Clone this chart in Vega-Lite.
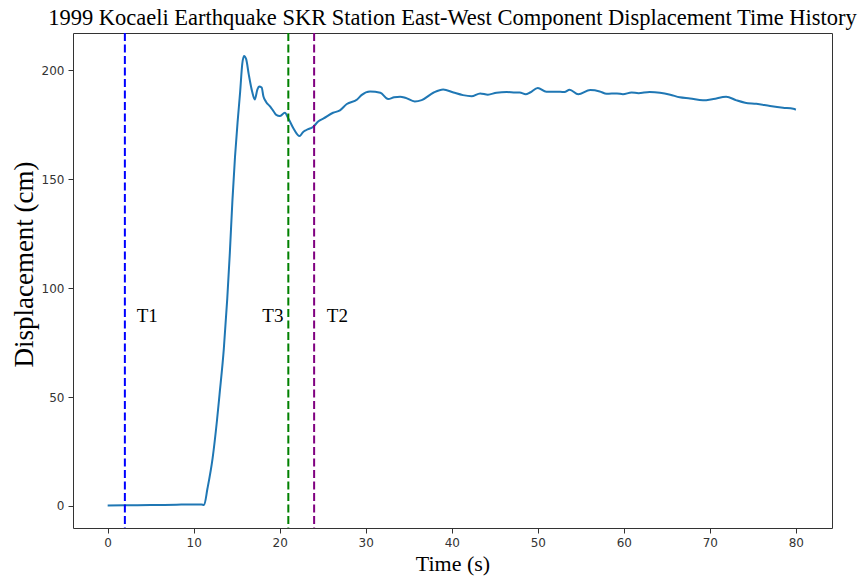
{
  "$schema": "https://vega.github.io/schema/vega-lite/v6.json",
  "autosize": "none",
  "width": 759,
  "height": 495,
  "padding": {"left": 73, "top": 33, "right": 35, "bottom": 51},
  "background": "white",
  "title": {
    "text": "1999 Kocaeli Earthquake SKR Station East-West Component Displacement Time History",
    "font": "Liberation Serif",
    "fontSize": 22.5,
    "fontWeight": "normal",
    "color": "#000",
    "anchor": "middle",
    "frame": "group",
    "offset": 3
  },
  "datasets": {
    "series": [
      {"t": 0, "d": 0.2}, {"t": 2, "d": 0.3}, {"t": 5, "d": 0.4}, {"t": 8, "d": 0.6}, {"t": 10, "d": 0.7},
      {"t": 10.9, "d": 0.7}, {"t": 11.2, "d": 0.4}, {"t": 11.6, "d": 8}, {"t": 12.2, "d": 22}, {"t": 12.7, "d": 39},
      {"t": 13.0, "d": 51}, {"t": 13.5, "d": 72}, {"t": 13.9, "d": 95}, {"t": 14.2, "d": 116}, {"t": 14.5, "d": 140},
      {"t": 14.8, "d": 160}, {"t": 15.1, "d": 176}, {"t": 15.4, "d": 190}, {"t": 15.65, "d": 203}, {"t": 15.85, "d": 206.5},
      {"t": 16.1, "d": 205}, {"t": 16.4, "d": 198}, {"t": 16.8, "d": 190}, {"t": 17.1, "d": 186.5}, {"t": 17.4, "d": 191},
      {"t": 17.6, "d": 192.5}, {"t": 17.9, "d": 192}, {"t": 18.1, "d": 188}, {"t": 18.4, "d": 185.5}, {"t": 18.9, "d": 183.2},
      {"t": 19.3, "d": 181}, {"t": 19.6, "d": 179.4}, {"t": 20.0, "d": 178.9}, {"t": 20.6, "d": 180.4}, {"t": 21.0, "d": 177.8},
      {"t": 21.6, "d": 173.2}, {"t": 22.3, "d": 169.7}, {"t": 22.7, "d": 171.5}, {"t": 23.1, "d": 172.5}, {"t": 23.9, "d": 174},
      {"t": 24.5, "d": 176.5}, {"t": 25.1, "d": 177.8}, {"t": 26.2, "d": 180.4}, {"t": 27.0, "d": 181.5}, {"t": 27.8, "d": 184.4},
      {"t": 29.0, "d": 186.5}, {"t": 29.5, "d": 188.5}, {"t": 30.5, "d": 190.2}, {"t": 31.7, "d": 189.6}, {"t": 32.6, "d": 186.7},
      {"t": 33.3, "d": 187.5}, {"t": 34.0, "d": 187.8}, {"t": 34.6, "d": 187.3}, {"t": 35.7, "d": 185.6}, {"t": 36.5, "d": 186.2},
      {"t": 37.9, "d": 189.7}, {"t": 39.0, "d": 191.1}, {"t": 40.2, "d": 189.7}, {"t": 41.3, "d": 188.5}, {"t": 42.3, "d": 188},
      {"t": 43.3, "d": 189.3}, {"t": 44.2, "d": 188.7}, {"t": 45.2, "d": 189.6}, {"t": 46.4, "d": 189.9}, {"t": 47.4, "d": 189.7},
      {"t": 47.9, "d": 189.7}, {"t": 48.6, "d": 188.9}, {"t": 49.1, "d": 189.7}, {"t": 50.0, "d": 191.8}, {"t": 51.0, "d": 190},
      {"t": 52.6, "d": 190}, {"t": 53.1, "d": 189.9}, {"t": 53.7, "d": 191}, {"t": 54.7, "d": 188.9}, {"t": 56.1, "d": 190.8},
      {"t": 57.2, "d": 190.2}, {"t": 58.0, "d": 189.1}, {"t": 59.2, "d": 189.3}, {"t": 59.9, "d": 188.9}, {"t": 60.9, "d": 189.7},
      {"t": 61.7, "d": 189.4}, {"t": 63.0, "d": 189.9}, {"t": 64.2, "d": 189.6}, {"t": 65.4, "d": 188.7}, {"t": 66.5, "d": 187.5},
      {"t": 67.7, "d": 187}, {"t": 69.2, "d": 186.1}, {"t": 70.4, "d": 186.7}, {"t": 71.9, "d": 187.8}, {"t": 73.1, "d": 186.1},
      {"t": 74.1, "d": 185}, {"t": 75.4, "d": 184.5}, {"t": 77.0, "d": 183.5}, {"t": 78.5, "d": 182.7}, {"t": 79.7, "d": 182.2},
      {"t": 80.0, "d": 181.8}
    ],
    "markers": [
      {"name": "T1", "t": 2},
      {"name": "T3", "t": 21},
      {"name": "T2", "t": 24}
    ],
    "labels": [
      {"name": "T1", "t": 4.6, "d": 87},
      {"name": "T3", "t": 19.2, "d": 87},
      {"name": "T2", "t": 26.7, "d": 87}
    ]
  },
  "layer": [
    {
      "data": {"name": "series"},
      "mark": {"type": "line", "color": "#1f77b4", "strokeWidth": 2, "interpolate": "monotone", "clip": true},
      "encoding": {
        "x": {
          "field": "t", "type": "quantitative",
          "scale": {"domain": [-4.03, 84.2], "nice": false, "zero": false},
          "axis": {"title": "Time (s)", "values": [0, 10, 20, 30, 40, 50, 60, 70, 80]}
        },
        "y": {
          "field": "d", "type": "quantitative",
          "scale": {"domain": [-10.1, 217], "nice": false, "zero": false},
          "axis": {"title": "Displacement (cm)", "values": [0, 50, 100, 150, 200], "titleFontSize": 27, "titlePadding": 3, "titleY": 231}
        }
      }
    },
    {
      "data": {"name": "markers"},
      "mark": {"type": "rule", "strokeWidth": 2, "strokeDash": [8, 3.5]},
      "encoding": {
        "x": {"field": "t", "type": "quantitative"},
        "color": {
          "field": "name", "type": "nominal",
          "scale": {"domain": ["T1", "T3", "T2"], "range": ["#0000ff", "#008000", "#800080"]},
          "legend": null
        }
      }
    },
    {
      "data": {"name": "labels"},
      "mark": {"type": "text", "font": "Liberation Serif", "fontSize": 19, "color": "#000", "align": "center", "baseline": "middle"},
      "encoding": {
        "x": {"field": "t", "type": "quantitative"},
        "y": {"field": "d", "type": "quantitative"},
        "text": {"field": "name", "type": "nominal"}
      }
    }
  ],
  "config": {
    "view": {"stroke": "#333", "strokeWidth": 1},
    "axis": {
      "grid": false,
      "domain": false,
      "ticks": true,
      "tickSize": 5,
      "tickColor": "#333",
      "tickWidth": 1,
      "labelFont": "DejaVu Sans",
      "labelFontSize": 12,
      "labelColor": "#333",
      "labelPadding": 4,
      "titleFont": "Liberation Serif",
      "titleFontSize": 22,
      "titleFontWeight": "normal",
      "titleColor": "#000"
    },
    "axisX": {"titlePadding": 5}
  }
}
